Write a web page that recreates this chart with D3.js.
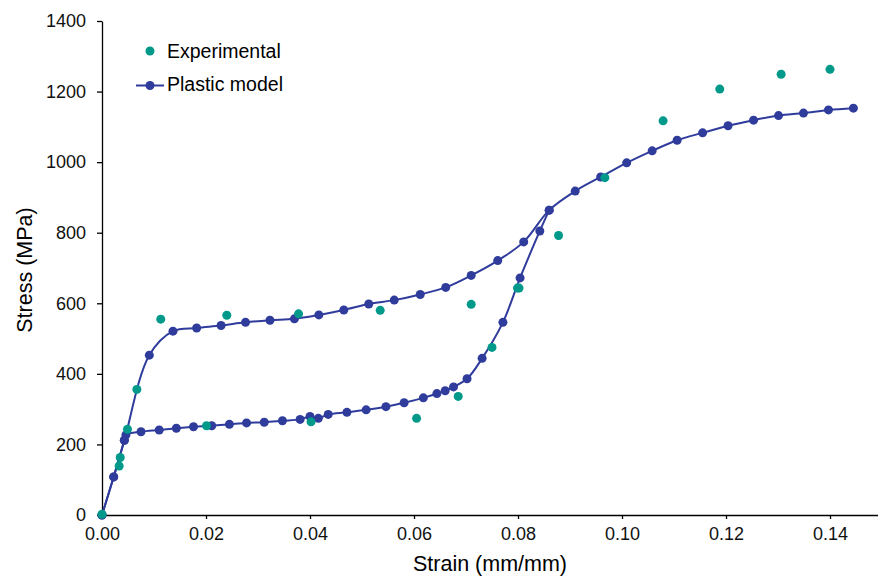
<!DOCTYPE html>
<style>
    body { margin: 0; background: #fff; }
    svg { font-family: "Liberation Sans", Arial, sans-serif; }
    .axis path, .axis line { stroke: #000; stroke-width: 1.3px; }
    .axis text { font-size: 18px; fill: #111; }
</style>
<body>
<script src="https://d3js.org/d3.v7.min.js"></script>
<script>
    // experimental points (strain, stress)
    var expStrain = [0, 0.0033, 0.0035, 0.0049, 0.0067, 0.0113, 0.0201, 0.0240, 0.0378, 0.0402,
                     0.0535, 0.0605, 0.0685, 0.0710, 0.0750, 0.0799, 0.0802, 0.0878, 0.0967,
                     0.1079, 0.1188, 0.1306, 0.1400];
    var expStress = [2, 139, 163, 243, 356, 555, 253, 566, 570, 264,
                     580, 274, 336, 597, 475, 643, 643, 792, 956,
                     1117, 1207, 1249, 1263];

    // plastic model, upper branch
    var upStrain = [0, 0.00225, 0.0043, 0.0091, 0.01365, 0.0182, 0.0229, 0.0276, 0.0323, 0.0370,
                    0.0417, 0.0465, 0.0513, 0.0562, 0.0612, 0.0661, 0.0710, 0.0761, 0.0811,
                    0.0860, 0.0910, 0.0959, 0.1009, 0.1058, 0.1106, 0.1155, 0.1204, 0.1253,
                    0.1301, 0.1349, 0.1397, 0.1445];
    var upStress = [0, 108, 212, 453, 521, 530, 537, 546, 552, 556,
                    567, 581, 598, 609, 625, 645, 679, 721, 774,
                    864, 918, 958, 998, 1032, 1062, 1083, 1103, 1119,
                    1132, 1139, 1148, 1153];

    // plastic model, lower branch
    var lowStrain = [0, 0.00225, 0.0043, 0.0046, 0.0075, 0.0110, 0.0143, 0.0176, 0.0211, 0.0245,
                     0.0278, 0.0312, 0.0347, 0.0381, 0.0400, 0.0416, 0.0435, 0.0471, 0.0508,
                     0.0546, 0.0581, 0.0618, 0.0644, 0.0660, 0.0676, 0.0702, 0.0731, 0.0771,
                     0.0804, 0.0842, 0.0860];
    var lowStress = [0, 108, 212, 227, 236, 241, 246, 250, 253, 257,
                     261, 263, 267, 271, 279, 274, 285, 291, 298,
                     307, 318, 332, 344, 352, 363, 386, 444, 546,
                     672, 805, 864];

    var xTicks = [0, 0.02, 0.04, 0.06, 0.08, 0.10, 0.12, 0.14];
    var yTicks = [0, 200, 400, 600, 800, 1000, 1200, 1400];

    var blue = "#2f3c9c", green = "#00998a";

    var svg = d3.select("body").append("svg")
        .attr("width", 878)
        .attr("height", 579);

    var x = d3.scaleLinear().domain([0, 0.15]).range([102, 882]);
    var y = d3.scaleLinear().domain([0, 1400]).range([515, 21]);

    function zip(a, b) { return a.map(function(v, i) { return [v, b[i]]; }); }
    var upper = zip(upStrain, upStress);
    var lower = zip(lowStrain, lowStress);
    var exper = zip(expStrain, expStress);

    svg.append("g")
        .attr("class", "axis")
        .attr("transform", "translate(0,515)")
        .call(d3.axisBottom(x).tickValues(xTicks).tickFormat(d3.format(".2f"))
              .tickSize(4).tickSizeOuter(0).tickPadding(8));

    svg.append("g")
        .attr("class", "axis")
        .attr("transform", "translate(102,0)")
        .call(d3.axisLeft(y).tickValues(yTicks).tickFormat(d3.format("d"))
              .tickSize(5).tickSizeOuter(0).tickPadding(11));

    var line = d3.line()
        .x(function(d) { return x(d[0]); })
        .y(function(d) { return y(d[1]); })
        .curve(d3.curveCatmullRom.alpha(0.5));

    [lower, upper].forEach(function(pts) {
        svg.append("path")
            .attr("d", line(pts))
            .attr("fill", "none")
            .attr("stroke", blue)
            .attr("stroke-width", 2);
        svg.append("g").selectAll("circle")
            .data(pts)
            .enter().append("circle")
              .attr("cx", function(d) { return x(d[0]); })
              .attr("cy", function(d) { return y(d[1]); })
              .attr("r", 4.5)
              .attr("fill", blue);
    });

    svg.append("g").selectAll("circle")
        .data(exper)
        .enter().append("circle")
          .attr("cx", function(d) { return x(d[0]); })
          .attr("cy", function(d) { return y(d[1]); })
          .attr("r", 4.5)
          .attr("fill", green);

    // legend
    var lg = svg.append("g");
    lg.append("circle").attr("cx", 150).attr("cy", 51).attr("r", 4.5).attr("fill", green);
    lg.append("text").attr("x", 167).attr("y", 57.5).style("font-size", "19.5px").text("Experimental");
    lg.append("line").attr("x1", 136).attr("x2", 164).attr("y1", 85.5).attr("y2", 85.5)
        .attr("stroke", blue).attr("stroke-width", 2);
    lg.append("circle").attr("cx", 150).attr("cy", 85.5).attr("r", 4.5).attr("fill", blue);
    lg.append("text").attr("x", 167).attr("y", 91).style("font-size", "19.5px").text("Plastic model");

    // axis titles
    svg.append("text")
        .attr("x", 490).attr("y", 571)
        .attr("text-anchor", "middle")
        .style("font-size", "21.5px")
        .text("Strain (mm/mm)");
    svg.append("text")
        .attr("transform", "translate(31.5,270) rotate(-90)")
        .attr("text-anchor", "middle")
        .style("font-size", "21.5px")
        .text("Stress (MPa)");
</script>
</body>
